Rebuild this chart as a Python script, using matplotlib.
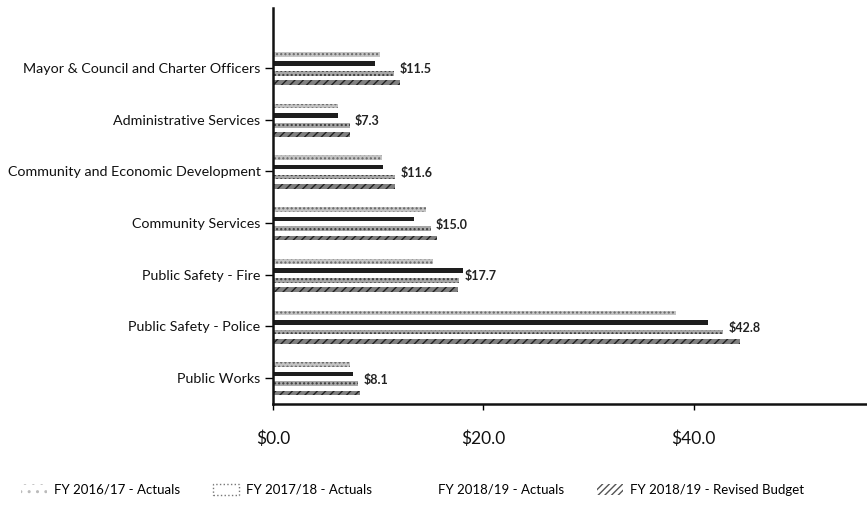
import matplotlib.pyplot as plt
import matplotlib.patches as mpatches
import numpy as np

plt.rcParams['font.family'] = ['Lato', 'DejaVu Sans']

departments = ["Mayor & Council and Charter Officers", "Administrative Services",
               "Community and Economic Development", "Community Services",
               "Public Safety - Fire", "Public Safety - Police", "Public Works"]
series_names = ["FY 2016/17 - Actuals", "FY 2017/18 - Actuals",
                "FY 2018/19 - Actuals", "FY 2018/19 - Revised Budget"]
fy17_actual = [10.2, 6.2, 10.4, 14.5, 15.2, 38.3, 7.3]
fy18_actual = [9.7, 6.2, 10.5, 13.4, 18.1, 41.4, 7.6]
fy19_actual = [11.5, 7.3, 11.6, 15.0, 17.7, 42.8, 8.1]
fy19_budget = [12.1, 7.3, 11.6, 15.6, 17.6, 44.4, 8.3]
x_ticks = [0, 20, 40]

series = [fy17_actual, fy18_actual, fy19_actual, fy19_budget]
styles = [dict(color='#c4c4c4', hatch='....', edgecolor='#666666'),
          dict(color='#1e1e1e', hatch=None, edgecolor='#1e1e1e'),
          dict(color='#a8a8a8', hatch='....', edgecolor='#3a3a3a'),
          dict(color='#808080', hatch='////', edgecolor='#222222')]
offsets = [-0.26, -0.08, 0.11, 0.29]

fig = plt.figure(figsize=(8.67, 5.21), dpi=100)
ax = fig.add_axes([0.315, 0.2246, 0.685, 0.7604])

y = np.arange(len(departments))
for vals, st, off in zip(series, styles, offsets):
    ax.barh(y + off, vals, height=0.09, color=st['color'], hatch=st['hatch'],
            edgecolor=st['edgecolor'], linewidth=0)

# value labels for FY 2018/19 actuals
for yi, v in zip(y, fy19_actual):
    ax.text(v + 0.5, yi + 0.03, f"${v:.1f}", va='center', ha='left',
            fontsize=9, fontweight='bold', color='#222222')

ax.set_yticks(y)
ax.set_yticklabels(departments, fontsize=10.3, color='#111111')
ax.set_xticks(x_ticks)
ax.set_xticklabels([f"${t:.1f}" for t in x_ticks], fontsize=12.5, color='#111111')
ax.set_xlim(0, 56.5)
ax.set_ylim(6.5, -1.16)

for s in ['top', 'right']:
    ax.spines[s].set_visible(False)
ax.spines['left'].set_linewidth(1.8)
ax.spines['bottom'].set_linewidth(1.8)
ax.spines['left'].set_color('#111111')
ax.spines['bottom'].set_color('#111111')
ax.tick_params(axis='y', length=6, width=1, pad=3)
ax.tick_params(axis='x', length=4, width=1, pad=15)

handles = [mpatches.Patch(facecolor='white', hatch='..', edgecolor='#bbbbbb', linewidth=0),
           mpatches.Patch(facecolor='white', edgecolor='#777777', linestyle=':', linewidth=1),
           mpatches.Patch(facecolor='white', edgecolor='white', linewidth=0),
           mpatches.Patch(facecolor='white', hatch='/////', edgecolor='#555555', linewidth=0)]
fig.legend(handles, series_names, loc='center left', bbox_to_anchor=(0.01, 0.06),
           ncol=4, frameon=False, fontsize=9.5, handlelength=2.0, handleheight=1.0,
           handletextpad=0.5, columnspacing=2.5)

fig.savefig("out.png", dpi=100)
